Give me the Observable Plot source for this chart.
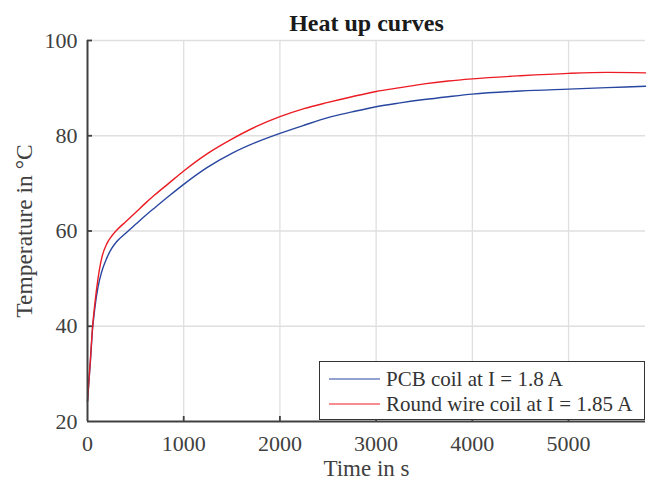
<!DOCTYPE html>
<html>
<head>
<meta charset="utf-8">
<script src="https://cdn.jsdelivr.net/npm/d3@7"></script>
<script src="https://cdn.jsdelivr.net/npm/@observablehq/plot@0.6"></script>
<style>
  html, body { margin: 0; padding: 0; background: #fff; }
  svg { display: block; }
</style>
</head>
<body>
<div id="chart"></div>
<script>
// ---- data ----
const titleText = "Heat up curves";
const xLabel = "Time in s";
const yLabel = "Temperature in °C";
const xTicks = [0, 1000, 2000, 3000, 4000, 5000];
const yTicks = [20, 40, 60, 80, 100];
const seriesNames = ["PCB coil at I = 1.8 A", "Round wire coil at I = 1.85 A"];
const seriesColors = ["#2846a0", "#ec1c24"];

const time =      [0,    15,   30,   50,   75,   110,  150,  200,  250,  300,  400,  500,  600,  700,  850,  1000, 1250, 1500, 1750, 2000, 2250, 2500, 2750, 3000, 3250, 3500, 3750, 4000, 4500, 5000, 5400, 5800];
const pcbTemp =   [24.2, 28.5, 32.5, 38.8, 43.6, 48.3, 51.6, 54.3, 56.3, 57.7, 59.6, 61.4, 63.2, 64.9, 67.4, 69.8, 73.4, 76.3, 78.6, 80.5, 82.2, 83.8, 85.0, 86.1, 86.9, 87.6, 88.2, 88.75, 89.4, 89.8, 90.1, 90.4];
const roundTemp = [24.2, 28.7, 33.0, 39.2, 44.5, 50.1, 54.5, 57.3, 58.9, 60.1, 62.0, 63.9, 65.8, 67.6, 70.1, 72.6, 76.3, 79.3, 81.9, 84.0, 85.7, 87.0, 88.2, 89.3, 90.1, 90.9, 91.5, 91.95, 92.6, 93.1, 93.3, 93.2];

// ---- table for Plot ----
const rows = [];
time.forEach((t, i) => rows.push({t, T: pcbTemp[i], s: seriesNames[0]}));
time.forEach((t, i) => rows.push({t, T: roundTemp[i], s: seriesNames[1]}));

const W = 651, H = 480;
const mL = 87, mR = 6, mT = 40, mB = 59;
const frameH = H - mT - mB;
const axisColor = "#404040";
const gridColor = "#dfdfdf";
const font = "'Liberation Serif', 'Times New Roman', serif";

const chart = Plot.plot({
  width: W,
  height: H,
  marginLeft: mL,
  marginRight: mR,
  marginTop: mT,
  marginBottom: mB,
  style: {fontFamily: font, background: "#fff", color: axisColor},
  x: {domain: [0, 5800]},
  y: {domain: [20, 100]},
  color: {domain: seriesNames, range: seriesColors},
  marks: [
    Plot.gridX(xTicks.filter(d => d > 0), {stroke: gridColor, strokeOpacity: 1, strokeWidth: 1.3}),
    Plot.gridY(yTicks.filter(d => d > 20), {stroke: gridColor, strokeOpacity: 1, strokeWidth: 1.3}),
    Plot.axisX({ticks: xTicks, tickFormat: d => `${d}`, tickSize: 0, tickPadding: 14, fontSize: 22, label: null, fill: axisColor}),
    Plot.axisY({ticks: yTicks, tickFormat: d => `${d}`, tickSize: 0, tickPadding: 10, fontSize: 22, label: null, fill: axisColor}),
    Plot.line(rows, {x: "t", y: "T", z: "s", stroke: "s", strokeWidth: 1.4, curve: "monotone-x"}),
    Plot.tickX(xTicks.filter(d => d > 0), {x: d => d, insetTop: frameH - 5, stroke: axisColor, strokeWidth: 1.8}),
    Plot.tickY(yTicks.filter(d => d > 20), {y: d => d, insetRight: (W - mL - mR) - 5, stroke: axisColor, strokeWidth: 1.8}),
    Plot.ruleX([0], {stroke: axisColor, strokeWidth: 2}),
    Plot.ruleY([20], {stroke: axisColor, strokeWidth: 2}),
    Plot.text([titleText], {text: d => d, frameAnchor: "top", lineAnchor: "middle", textAnchor: "middle", dy: -17.5, fontSize: 24, fontWeight: "bold", fill: "#1a1a1a"}),
    Plot.text([xLabel], {text: d => d, frameAnchor: "bottom", lineAnchor: "middle", textAnchor: "middle", dy: 47.5, fontSize: 23, fill: axisColor}),
    Plot.text([yLabel], {text: d => d, frameAnchor: "left", lineAnchor: "middle", textAnchor: "middle", dx: -63.5, rotate: -90, fontSize: 23.5, fill: axisColor})
  ]
});

// ---- legend (drawn into the same SVG) ----
const svg = d3.select(chart);
const lg = svg.append("g")
  .attr("font-family", font)
  .attr("font-size", 21)
  .attr("text-anchor", "start");
lg.append("rect")
  .attr("x", 319.5).attr("y", 361.5).attr("width", 325).attr("height", 58)
  .attr("fill", "#fff").attr("stroke", "#333").attr("stroke-width", 1);
seriesNames.forEach((name, i) => {
  const yy = 379 + i * 25;
  lg.append("line")
    .attr("x1", 329).attr("x2", 380).attr("y1", yy).attr("y2", yy)
    .attr("stroke", seriesColors[i]).attr("stroke-width", 1.2);
  lg.append("text")
    .attr("x", 386).attr("y", yy + 6.5)
    .attr("fill", "#333")
    .attr("text-anchor", "start")
    .text(name);
});

document.getElementById("chart").appendChild(chart);
</script>
</body>
</html>
